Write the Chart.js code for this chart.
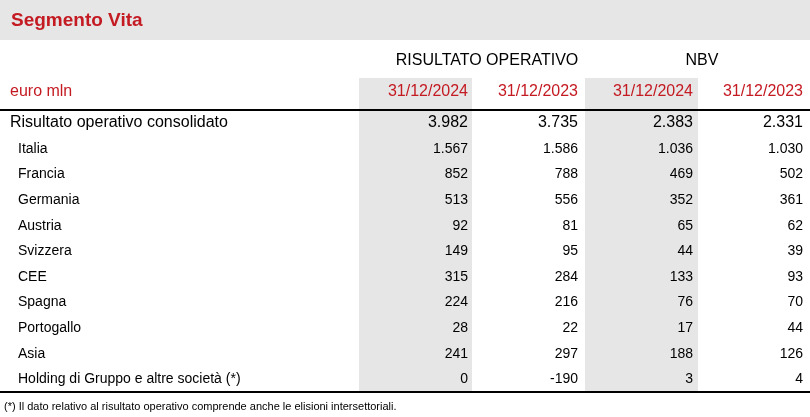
<!DOCTYPE html>
<html>
<head>
<meta charset="utf-8">
<script src="https://cdn.jsdelivr.net/npm/chart.js@4/dist/chart.umd.min.js"></script>
<style>
  body { margin: 0; background: #fff; }
  #wrap { width: 810px; height: 417px; position: relative; }
</style>
</head>
<body>
<div id="wrap"><canvas id="tbl"></canvas></div>
<script>
const title = "Segmento Vita";
const groups = ["RISULTATO OPERATIVO", "NBV"];
const unitLabel = "euro mln";
const dates = ["31/12/2024", "31/12/2023", "31/12/2024", "31/12/2023"];
const totalLabel = "Risultato operativo consolidato";
const totalValues = ["3.982", "3.735", "2.383", "2.331"];
const rowLabels = ["Italia", "Francia", "Germania", "Austria", "Svizzera", "CEE", "Spagna", "Portogallo", "Asia", "Holding di Gruppo e altre società (*)"];
const opResult2024 = ["1.567", "852", "513", "92", "149", "315", "224", "28", "241", "0"];
const opResult2023 = ["1.586", "788", "556", "81", "95", "284", "216", "22", "297", "-190"];
const nbv2024 = ["1.036", "469", "352", "65", "44", "133", "76", "17", "188", "3"];
const nbv2023 = ["1.030", "502", "361", "62", "39", "93", "70", "44", "126", "4"];
const footnote = "(*) Il dato relativo al risultato operativo comprende anche le elisioni intersettoriali.";

const RED = "#c41a22";
const FONT = '"Liberation Sans Narrow", "Liberation Sans", Arial, sans-serif';
const colRight = [468, 578, 693, 803];
const shaded = [[359, 472], [585, 698]];

const tablePlugin = {
  id: "tablePlugin",
  afterDraw(chart) {
    const ctx = chart.ctx;
    const sx = chart.scales.x, sy = chart.scales.y;
    const X = (v) => sx.getPixelForValue(v);
    const Y = (v) => sy.getPixelForValue(v);
    ctx.save();
    ctx.fillStyle = "#e6e6e6";
    ctx.fillRect(X(0), Y(0), X(810) - X(0), Y(40) - Y(0));
    shaded.forEach(([a, b]) => ctx.fillRect(X(a), Y(78), X(b) - X(a), Y(392) - Y(78)));
    ctx.fillStyle = "#000";
    ctx.fillRect(X(0), Y(109), X(810) - X(0), 2);
    ctx.fillRect(X(0), Y(391), X(810) - X(0), 2);

    ctx.textBaseline = "middle";
    ctx.fillStyle = RED;
    ctx.font = "bold 19px " + FONT;
    ctx.textAlign = "left";
    ctx.fillText(title, X(11), Y(21));

    ctx.fillStyle = "#000";
    ctx.font = "16px " + FONT;
    ctx.textAlign = "center";
    ctx.fillText(groups[0], X(487), Y(61));
    ctx.fillText(groups[1], X(702), Y(61));

    ctx.fillStyle = RED;
    ctx.textAlign = "left";
    ctx.fillText(unitLabel, X(10), Y(92));
    ctx.textAlign = "right";
    dates.forEach((d, i) => ctx.fillText(d, X(colRight[i]), Y(92)));

    ctx.fillStyle = "#000";
    ctx.textAlign = "left";
    ctx.fillText(totalLabel, X(10), Y(123));
    ctx.textAlign = "right";
    totalValues.forEach((v, i) => ctx.fillText(v, X(colRight[i]), Y(123)));

    ctx.font = "14px " + FONT;
    const cols = [opResult2024, opResult2023, nbv2024, nbv2023];
    rowLabels.forEach((lab, r) => {
      const y = Y(149 + r * 25.6);
      ctx.textAlign = "left";
      ctx.fillText(lab, X(18), y);
      ctx.textAlign = "right";
      cols.forEach((c, i) => ctx.fillText(c[r], X(colRight[i]), y));
    });

    ctx.font = "11px " + FONT;
    ctx.textAlign = "left";
    ctx.fillText(footnote, X(4), Y(407));
    ctx.restore();
  }
};

new Chart(document.getElementById("tbl"), {
  type: "bar",
  data: { labels: [], datasets: [] },
  options: {
    responsive: true,
    maintainAspectRatio: false,
    animation: false,
    layout: { padding: 0 },
    plugins: { legend: { display: false }, tooltip: { enabled: false } },
    scales: {
      x: { type: "linear", min: 0, max: 810, offset: false, display: false },
      y: { type: "linear", min: 0, max: 417, reverse: true, offset: false, display: false }
    }
  },
  plugins: [tablePlugin]
});
</script>
</body>
</html>
